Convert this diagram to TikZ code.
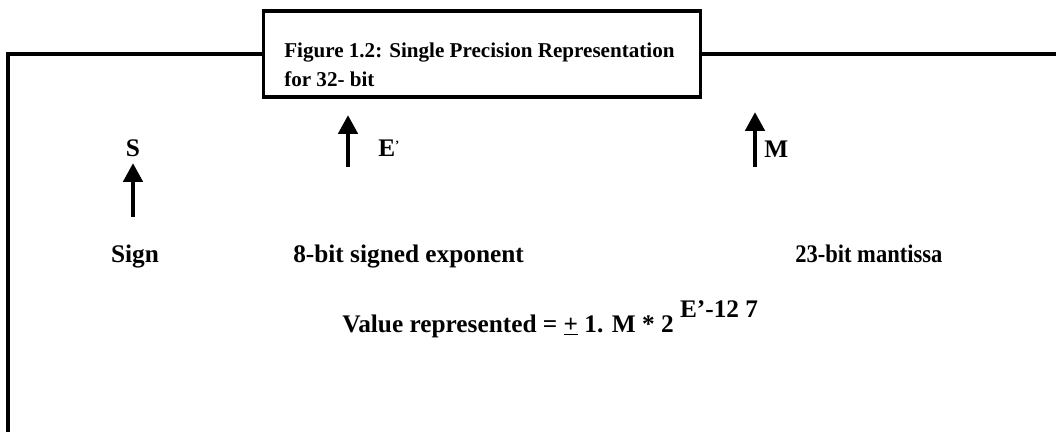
\documentclass[tikz,border=0pt]{standalone}
\usepackage{fontspec}
\setmainfont{Liberation Serif}
\usetikzlibrary{arrows.meta,positioning}

\begin{document}
\begin{tikzpicture}[
  x=0.025cm, y=-0.025cm,
  lbl/.style={font=\fontsize{18}{21}\selectfont\bfseries, inner sep=0pt},
  frame/.style={line width=2.2pt},
  arrow/.style={-{Triangle[length=13.5pt, width=13.5pt]}, line width=3.5pt}
]
\useasboundingbox (0,0) rectangle (1056,432);

% title box and frame
\node[draw, line width=2.2pt, minimum width=10.9cm, minimum height=2.15cm, inner sep=0pt] (titlebox) at (482,54) {};
\node[lbl, anchor=north west, align=left, font=\fontsize{15}{20.6}\selectfont\bfseries] (title) at (284,43)
  {Figure 1.2: Single Precision Representation\\for 32- bit};
\coordinate (fbl) at (8,432);
\coordinate (fr) at (1056,54);
\draw[frame] (titlebox.west) -| (fbl);
\draw[frame] (titlebox.east) -- (fr);

% field labels
\node[lbl, anchor=base] (s) at (133,157) {S};
\node[lbl, anchor=base west] (e) at (378,157) {E\raisebox{5pt}{\fontsize{9}{9}\selectfont'}};
\node[lbl, anchor=base west] (m) at (764,158) {M};

\coordinate (stail) at (133,217);
\coordinate (stip) at (133,163);
\coordinate (etail) at (348,167);
\coordinate (etip) at (348,115);
\coordinate (mtail) at (755,167);
\coordinate (mtip) at (755,112);
\draw[arrow] (stail) -- (stip);
\draw[arrow] (etail) -- (etip);
\draw[arrow] (mtail) -- (mtip);

\node[lbl, anchor=base] (sign) at (135,262) {Sign};
\node[lbl, anchor=base west] (exp) at (293,262) {8-bit signed exponent};
\node[lbl, anchor=base west] (man) at (795,262) {\scalebox{0.89}[1]{23-bit mantissa}};

% formula
\node[lbl, anchor=base west] (value) at (342,332)
  {Value represented = \underline{+} 1. M * 2 \raisebox{10pt}{E’-12 7}};
\end{tikzpicture}
\end{document}
